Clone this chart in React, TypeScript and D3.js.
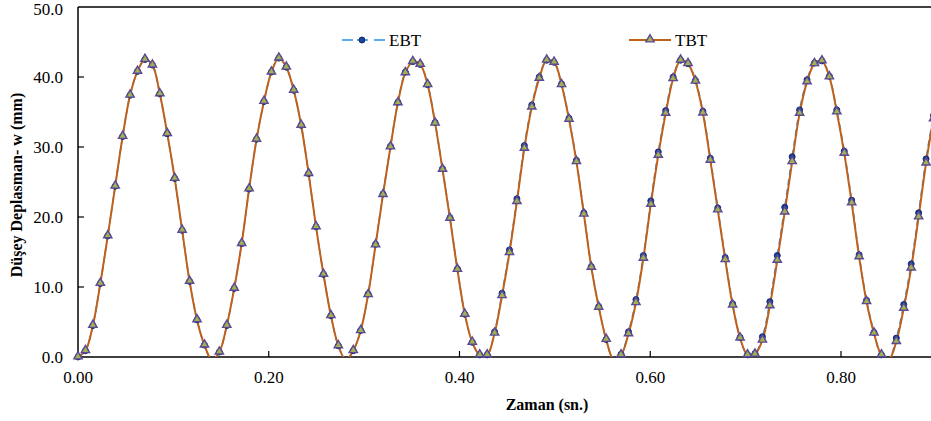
import React from "react";
import * as d3 from "d3";

const time = [
  0.0, 0.0078, 0.0156, 0.0234, 0.0312, 0.039, 0.0468, 0.0546, 0.0624, 0.0702,
  0.078, 0.0858, 0.0936, 0.1014, 0.1092, 0.117, 0.1248, 0.1326, 0.1404, 0.1482,
  0.156, 0.1638, 0.1716, 0.1794, 0.1872, 0.195, 0.2028, 0.2106, 0.2184, 0.2262,
  0.234, 0.2418, 0.2496, 0.2574, 0.2652, 0.273, 0.2808, 0.2886, 0.2964, 0.3042,
  0.312, 0.3198, 0.3276, 0.3354, 0.3432, 0.351, 0.3588, 0.3666, 0.3744, 0.3822,
  0.39, 0.3978, 0.4056, 0.4134, 0.4212, 0.429, 0.4368, 0.4446, 0.4524, 0.4602,
  0.468, 0.4758, 0.4836, 0.4914, 0.4992, 0.507, 0.5148, 0.5226, 0.5304, 0.5382,
  0.546, 0.5538, 0.5616, 0.5694, 0.5772, 0.585, 0.5928, 0.6006, 0.6084, 0.6162,
  0.624, 0.6318, 0.6396, 0.6474, 0.6552, 0.663, 0.6708, 0.6786, 0.6864, 0.6942,
  0.702, 0.7098, 0.7176, 0.7254, 0.7332, 0.741, 0.7488, 0.7566, 0.7644, 0.7722,
  0.78, 0.7878, 0.7956, 0.8034, 0.8112, 0.819, 0.8268, 0.8346, 0.8424, 0.8502,
  0.858, 0.8658, 0.8736, 0.8814, 0.8892, 0.897, 0.9048,
];

const tbt = [
  0, 0.9, 4.5, 10.5, 17.3, 24.4, 31.5, 37.4, 40.8, 42.5,
  41.7, 37.6, 31.9, 25.5, 18.1, 10.8, 5.3, 1.7, -0.4, 0.7,
  4.5, 9.8, 16.2, 24.0, 31.1, 36.5, 40.7, 42.7, 41.4, 38.1,
  33.1, 26.2, 18.6, 11.8, 5.9, 1.6, -0.4, 0.9, 3.75, 8.9,
  16.0, 23.2, 30.0, 36.3, 40.6, 42.2, 41.8, 38.9, 33.4, 26.8,
  19.8, 12.5, 6.1, 2.1, 0.3, 0.3, 3.4, 8.75, 14.9, 22.2,
  29.8, 35.7, 39.8, 42.4, 42.1, 38.9, 33.95, 27.9, 20.4, 12.8,
  7.1, 2.5, -0.3, 0.3, 3.3, 7.75, 14.1, 21.8, 28.8, 34.8,
  39.75, 42.4, 41.9, 39.4, 34.85, 28.1, 21.0, 13.9, 7.4, 2.7,
  0.3, 0.4, 2.4, 7.3, 13.8, 20.7, 27.9, 34.8, 39.3, 41.9,
  42.3, 40.0, 35.0, 29.1, 22.0, 14.3, 7.9, 3.4, 0.3, -0.3,
  2.2, 6.95, 12.7, 20.0, 27.7, 34.0, 39.0,
];

const ebt = [
  0, 0.9, 4.5, 10.5, 17.3, 24.4, 31.5, 37.4, 40.8, 42.5,
  41.7, 37.6, 31.9, 25.5, 18.1, 10.8, 5.3, 1.7, -0.4, 0.7,
  4.5, 9.8, 16.2, 24.0, 31.1, 36.5, 40.7, 42.7, 41.4, 38.1,
  33.1, 26.2, 18.6, 11.8, 5.9, 1.6, -0.4, 0.9, 3.8, 9.0,
  16.1, 23.3, 30.1, 36.4, 40.7, 42.2, 41.8, 38.9, 33.5, 26.9,
  19.9, 12.6, 6.1, 2.1, 0.3, 0.3, 3.6, 9.1, 15.3, 22.6,
  30.2, 36.0, 40.0, 42.4, 42.1, 39.0, 34.1, 28.1, 20.6, 12.9,
  7.2, 2.5, -0.3, 0.4, 3.6, 8.2, 14.5, 22.3, 29.3, 35.2,
  40.0, 42.4, 41.9, 39.5, 35.1, 28.4, 21.3, 14.2, 7.6, 2.8,
  0.3, 0.5, 2.9, 7.9, 14.5, 21.4, 28.6, 35.3, 39.6, 42.0,
  42.3, 40.1, 35.3, 29.4, 22.4, 14.6, 8.1, 3.5, 0.3, -0.2,
  2.7, 7.5, 13.3, 20.6, 28.3, 34.5, 39.3,
];

const xTicks = [0, 0.2, 0.4, 0.6, 0.8];
const yTicks = [0, 10, 20, 30, 40, 50];

const W = 931;
const H = 421;
const left = 78;
const top = 7;
const bottom = 357;
const right = 1031.75;

const FONT = '"Times New Roman", "Liberation Serif", "DejaVu Serif", serif';

export default function App() {
  const x = d3.scaleLinear().domain([0, 1]).range([left, right]);
  const y = d3.scaleLinear().domain([0, 50]).range([bottom, top]);

  const tbtData = time.map((t, i) => [t, tbt[i]] as [number, number]);
  const ebtData = time.map((t, i) => [t, ebt[i]] as [number, number]);

  const line = d3
    .line<[number, number]>()
    .x((d) => x(d[0]))
    .y((d) => y(d[1]))
    .curve(d3.curveCatmullRom.alpha(0.5));

  const tri = d3.symbol().type(d3.symbolTriangle).size(30)() as string;
  const txt = { fontFamily: FONT } as React.CSSProperties;

  return (
    <svg
      width={W}
      height={H}
      style={{ position: "absolute", left: 0, top: 0, background: "#fff" }}
    >
      <defs>
        <clipPath id="plot">
          <rect x={left} y={top} width={right - left} height={bottom - top} />
        </clipPath>
      </defs>
      <rect x={0} y={0} width={W} height={H} fill="#fff" />

      {/* frame */}
      <line x1={left} x2={W} y1={top} y2={top} stroke="#000" strokeWidth={1.5} />
      <line x1={left} x2={left} y1={top} y2={bottom} stroke="#000" strokeWidth={1.5} />
      <line x1={left} x2={W} y1={bottom} y2={bottom} stroke="#000" strokeWidth={1.5} />

      {/* y ticks */}
      {yTicks.map((v) => (
        <g key={"y" + v}>
          {v > 0 && v < 50 && (
            <line x1={left} x2={left + 6} y1={y(v)} y2={y(v)} stroke="#000" strokeWidth={1.2} />
          )}
          <text
            x={63}
            y={v === 50 ? y(v) + 2 : y(v)}
            dy="0.35em"
            textAnchor="end"
            fontSize={17}
            fill="#000"
            style={txt}
          >
            {v.toFixed(1)}
          </text>
        </g>
      ))}

      {/* x ticks */}
      {xTicks.map((v) => (
        <g key={"x" + v}>
          {v > 0 && (
            <line x1={x(v)} x2={x(v)} y1={bottom} y2={bottom - 6} stroke="#000" strokeWidth={1.2} />
          )}
          <text x={x(v)} y={383} textAnchor="middle" fontSize={17} fill="#000" style={txt}>
            {v.toFixed(2)}
          </text>
        </g>
      ))}

      {/* series lines */}
      <g clipPath="url(#plot)">
        <path
          d={line(ebtData) as string}
          fill="none"
          stroke="#2f8fe0"
          strokeWidth={1.5}
          strokeDasharray="6,4"
        />
        <path d={line(tbtData) as string} fill="none" stroke="#c0601a" strokeWidth={2} />
      </g>

      {/* markers */}
      {ebtData
        .filter((d) => d[1] >= 0)
        .map((d, i) => (
          <circle
            key={"e" + i}
            cx={x(d[0])}
            cy={y(d[1])}
            r={3}
            fill="#1d3f94"
            stroke="#0f2a6e"
            strokeWidth={1}
          />
        ))}
      {tbtData
        .filter((d) => d[1] >= 0)
        .map((d, i) => (
          <path
            key={"t" + i}
            d={tri}
            transform={`translate(${x(d[0])},${y(d[1]) - 0.5})`}
            fill="#a3b24e"
            stroke="#5a4a96"
            strokeWidth={1.4}
          />
        ))}

      {/* legend */}
      <g>
        <line x1={342} x2={353} y1={40} y2={40} stroke="#2f8fe0" strokeWidth={1.5} />
        <line x1={357} x2={368} y1={40} y2={40} stroke="#2f8fe0" strokeWidth={1.5} />
        <line x1={374} x2={385} y1={40} y2={40} stroke="#2f8fe0" strokeWidth={1.5} />
        <circle cx={362} cy={40} r={3} fill="#1d3f94" stroke="#0f2a6e" strokeWidth={1} />
        <text x={389} y={40} dy="0.35em" fontSize={17} fill="#000" style={txt}>
          EBT
        </text>
        <line x1={629} x2={671} y1={40} y2={40} stroke="#c0601a" strokeWidth={2} />
        <path
          d={tri}
          transform="translate(650,39.5)"
          fill="#a3b24e"
          stroke="#5a4a96"
          strokeWidth={1.4}
        />
        <text x={675} y={40} dy="0.35em" fontSize={17} fill="#000" style={txt}>
          TBT
        </text>
      </g>

      {/* axis titles */}
      <text
        x={547}
        y={410}
        textAnchor="middle"
        fontSize={16}
        fontWeight="bold"
        fill="#000"
        style={txt}
      >
        Zaman (sn.)
      </text>
      <text
        transform="translate(22,185) rotate(-90)"
        textAnchor="middle"
        fontSize={16}
        fontWeight="bold"
        fill="#000"
        style={txt}
      >
        Düşey Deplasman- w (mm)
      </text>
    </svg>
  );
}
